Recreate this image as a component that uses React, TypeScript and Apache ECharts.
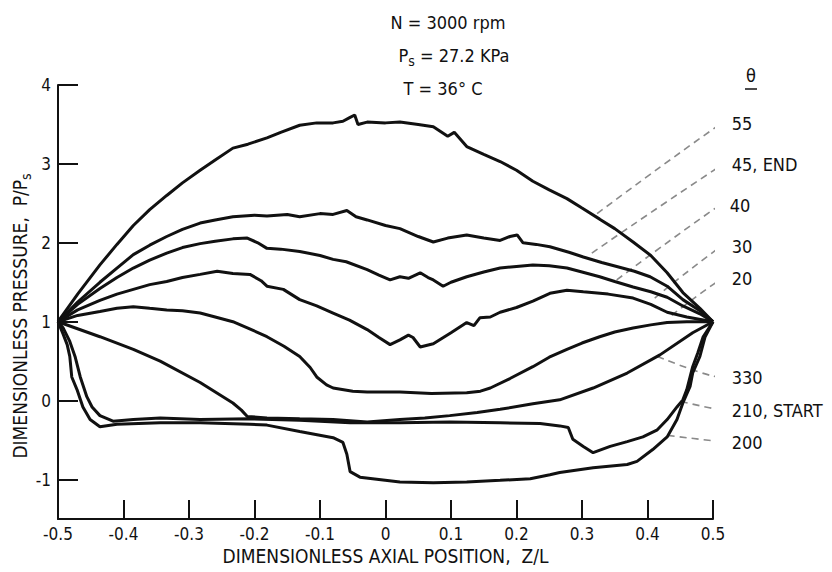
import React, { useEffect, useRef } from "react";
import * as echarts from "echarts";

const FONT = "'Liberation Sans Narrow','DejaVu Sans Condensed','Roboto Condensed','DejaVu Sans',sans-serif";
const INK = "#111111";

const yTickValues = [-1, 0, 1, 2, 3, 4];

const curveNames = ["55", "45, END", "40", "30", "20", "330", "210, START", "200"];

const theta55 = [[-0.5,1.0],[-0.47,1.35],[-0.436,1.72],[-0.41,1.98],[-0.385,2.22],[-0.36,2.42],[-0.334,2.60],[-0.31,2.76],[-0.283,2.92],[-0.26,3.05],[-0.233,3.20],[-0.21,3.25],[-0.181,3.33],[-0.16,3.40],[-0.131,3.49],[-0.105,3.52],[-0.08,3.52],[-0.065,3.54],[-0.054,3.59],[-0.047,3.62],[-0.042,3.50],[-0.028,3.53],[0.0,3.52],[0.022,3.53],[0.05,3.50],[0.073,3.47],[0.095,3.35],[0.105,3.40],[0.124,3.22],[0.15,3.12],[0.175,3.03],[0.2,2.92],[0.225,2.78],[0.25,2.67],[0.277,2.56],[0.30,2.44],[0.327,2.30],[0.35,2.18],[0.378,2.01],[0.405,1.84],[0.43,1.62],[0.454,1.37],[0.48,1.17],[0.5,1.0]];
const theta45 = [[-0.5,1.0],[-0.47,1.25],[-0.436,1.50],[-0.41,1.68],[-0.385,1.85],[-0.36,1.97],[-0.334,2.08],[-0.31,2.17],[-0.283,2.25],[-0.26,2.29],[-0.233,2.33],[-0.2,2.35],[-0.181,2.34],[-0.15,2.36],[-0.131,2.33],[-0.10,2.37],[-0.08,2.36],[-0.059,2.41],[-0.045,2.33],[-0.028,2.29],[0.0,2.22],[0.022,2.18],[0.05,2.08],[0.073,2.01],[0.095,2.06],[0.124,2.10],[0.15,2.06],[0.175,2.03],[0.19,2.08],[0.201,2.10],[0.21,2.00],[0.23,1.98],[0.251,1.95],[0.28,1.88],[0.302,1.82],[0.33,1.75],[0.353,1.70],[0.38,1.64],[0.404,1.57],[0.43,1.45],[0.454,1.28],[0.48,1.14],[0.5,1.0]];
const theta40 = [[-0.5,1.0],[-0.47,1.22],[-0.436,1.42],[-0.41,1.56],[-0.385,1.68],[-0.36,1.78],[-0.334,1.87],[-0.31,1.94],[-0.283,1.99],[-0.26,2.02],[-0.233,2.05],[-0.211,2.06],[-0.195,2.0],[-0.181,1.93],[-0.16,1.92],[-0.131,1.89],[-0.10,1.84],[-0.08,1.79],[-0.06,1.76],[-0.028,1.66],[-0.01,1.59],[0.007,1.53],[0.022,1.57],[0.035,1.55],[0.053,1.62],[0.065,1.56],[0.073,1.53],[0.088,1.45],[0.10,1.50],[0.124,1.57],[0.15,1.63],[0.175,1.68],[0.2,1.70],[0.225,1.72],[0.25,1.71],[0.277,1.68],[0.30,1.63],[0.327,1.57],[0.35,1.51],[0.378,1.44],[0.405,1.38],[0.43,1.31],[0.454,1.20],[0.48,1.10],[0.5,1.0]];
const theta30 = [[-0.5,1.0],[-0.47,1.15],[-0.436,1.27],[-0.41,1.35],[-0.385,1.41],[-0.36,1.47],[-0.334,1.51],[-0.31,1.56],[-0.283,1.60],[-0.257,1.64],[-0.233,1.61],[-0.207,1.60],[-0.19,1.52],[-0.181,1.45],[-0.156,1.41],[-0.131,1.28],[-0.105,1.20],[-0.08,1.11],[-0.055,1.02],[-0.028,0.90],[-0.01,0.80],[0.007,0.71],[0.022,0.77],[0.035,0.83],[0.042,0.80],[0.053,0.68],[0.073,0.72],[0.10,0.86],[0.124,0.99],[0.135,0.95],[0.144,1.05],[0.16,1.06],[0.175,1.12],[0.2,1.18],[0.225,1.26],[0.251,1.36],[0.277,1.40],[0.302,1.38],[0.34,1.35],[0.378,1.30],[0.405,1.22],[0.43,1.12],[0.46,1.06],[0.5,1.0]];
const theta20 = [[-0.5,1.0],[-0.47,1.08],[-0.436,1.13],[-0.41,1.17],[-0.385,1.19],[-0.36,1.17],[-0.334,1.15],[-0.31,1.14],[-0.283,1.11],[-0.26,1.06],[-0.233,1.0],[-0.21,0.92],[-0.181,0.81],[-0.155,0.69],[-0.131,0.56],[-0.115,0.42],[-0.105,0.30],[-0.09,0.20],[-0.08,0.16],[-0.05,0.12],[-0.028,0.11],[0.022,0.11],[0.07,0.09],[0.124,0.10],[0.145,0.12],[0.16,0.16],[0.19,0.28],[0.225,0.43],[0.25,0.55],[0.277,0.65],[0.30,0.73],[0.327,0.81],[0.35,0.87],[0.378,0.92],[0.405,0.96],[0.43,0.99],[0.46,1.0],[0.5,1.0]];
const theta330 = [[-0.5,1.0],[-0.436,0.81],[-0.385,0.65],[-0.344,0.50],[-0.283,0.23],[-0.233,-0.03],[-0.22,-0.12],[-0.211,-0.20],[-0.181,-0.22],[-0.131,-0.23],[-0.08,-0.24],[-0.028,-0.27],[0.022,-0.24],[0.06,-0.22],[0.098,-0.19],[0.14,-0.15],[0.175,-0.11],[0.225,-0.04],[0.266,0.01],[0.317,0.16],[0.369,0.35],[0.419,0.58],[0.469,0.86],[0.5,1.0]];
const theta210 = [[-0.5,1.0],[-0.492,0.92],[-0.482,0.75],[-0.474,0.56],[-0.466,0.30],[-0.456,0.05],[-0.448,-0.08],[-0.436,-0.19],[-0.416,-0.26],[-0.385,-0.24],[-0.344,-0.22],[-0.283,-0.24],[-0.207,-0.23],[-0.131,-0.25],[-0.054,-0.28],[0.022,-0.28],[0.098,-0.27],[0.175,-0.28],[0.236,-0.29],[0.266,-0.32],[0.279,-0.34],[0.286,-0.49],[0.302,-0.58],[0.317,-0.66],[0.343,-0.58],[0.369,-0.52],[0.393,-0.46],[0.415,-0.37],[0.43,-0.24],[0.445,-0.08],[0.454,0.01],[0.46,0.14],[0.465,0.30],[0.469,0.43],[0.477,0.61],[0.485,0.81],[0.5,1.0]];
const theta200 = [[-0.5,1.0],[-0.492,0.84],[-0.486,0.71],[-0.482,0.56],[-0.479,0.30],[-0.471,0.14],[-0.462,-0.08],[-0.451,-0.24],[-0.436,-0.33],[-0.41,-0.30],[-0.344,-0.28],[-0.283,-0.28],[-0.207,-0.30],[-0.181,-0.31],[-0.131,-0.39],[-0.08,-0.47],[-0.065,-0.53],[-0.059,-0.68],[-0.054,-0.90],[-0.039,-0.97],[0.022,-1.03],[0.073,-1.04],[0.124,-1.03],[0.175,-1.01],[0.221,-0.99],[0.251,-0.94],[0.266,-0.91],[0.317,-0.85],[0.369,-0.81],[0.384,-0.77],[0.408,-0.62],[0.43,-0.46],[0.445,-0.24],[0.454,-0.03],[0.465,0.18],[0.469,0.35],[0.48,0.56],[0.488,0.81],[0.5,1.0]];

const curves = [theta55, theta45, theta40, theta30, theta20, theta330, theta210, theta200];

// leader lines: point on the curve -> point next to the label (data units)
const leaderStarts = [[0.323,2.37],[0.315,1.87],[0.353,1.53],[0.411,1.30],[0.437,1.08],[0.415,0.56],[0.451,-0.01],[0.431,-0.44]];
const leaderEnds = [[0.521,3.53],[0.521,3.0],[0.518,2.49],[0.521,1.97],[0.521,1.56],[0.521,0.30],[0.521,-0.11],[0.521,-0.52]];

const infoLines = ["N = 3000 rpm", "P{s|s} = 27.2 KPa", "T = 36° C"];

export default function App() {
  const ref = useRef<HTMLDivElement>(null);
  useEffect(() => {
    if (!ref.current) return;
    const chart = echarts.init(ref.current, null, { renderer: "svg" });
    const lineSeries = curves.map((d, i) => ({
      name: curveNames[i],
      type: "line",
      data: d,
      symbol: "none",
      lineStyle: { color: INK, width: 3 },
      z: 3,
    }));
    const leaderSeries = leaderStarts.map((s, i) => {
      const e = leaderEnds[i];
      const upper = i < 5;
      const bend = upper ? [e[0] - 0.016, e[1] - 0.06] : [e[0] - 0.02, e[1] + 0.01];
      return {
        type: "line",
        data: [s, bend, e],
        smooth: upper ? 0.5 : 0.3,
        symbol: "none",
        clip: false,
        silent: true,
        lineStyle: { color: "#8a8a8a", width: 1.6, type: [7, 5] },
        z: 2,
      };
    });
    chart.setOption({
      animation: false,
      backgroundColor: "#ffffff",
      grid: { left: 58, right: 119, top: 85, bottom: 53, containLabel: false },
      xAxis: {
        type: "value",
        min: -0.5,
        max: 0.5,
        interval: 0.1,
        axisLine: { onZero: false, lineStyle: { color: INK, width: 2 } },
        axisTick: { inside: true, length: 19, lineStyle: { color: INK, width: 2 } },
        axisLabel: {
          color: INK,
          fontFamily: FONT,
          fontSize: 17,
          margin: 6,
          formatter: (v: number) => (Math.abs(v) < 1e-9 ? "0" : v.toFixed(1)),
        },
        splitLine: { show: false },
        name: "DIMENSIONLESS AXIAL POSITION,  Z/L",
        nameLocation: "middle",
        nameGap: 25,
        nameTextStyle: { color: INK, fontFamily: FONT, fontSize: 19 },
      },
      yAxis: {
        type: "value",
        min: -1.5,
        max: 4,
        axisLine: { onZero: false, lineStyle: { color: INK, width: 2 } },
        axisTick: { inside: true, length: 20, customValues: yTickValues, lineStyle: { color: INK, width: 2 } },
        axisLabel: { color: INK, fontFamily: FONT, fontSize: 17, margin: 7, customValues: yTickValues },
        splitLine: { show: false },
      },
      series: [...lineSeries, ...leaderSeries],
    });

    const gr: any[] = [];
    leaderEnds.forEach((e, i) => {
      const p = chart.convertToPixel({ gridIndex: 0 }, e) as number[];
      gr.push({
        type: "text",
        x: p[0] + 5,
        y: p[1] + 1,
        style: { text: curveNames[i], fontFamily: FONT, fontSize: 18, fill: INK, align: "left", verticalAlign: "middle" },
      });
    });
    const infoY = [22, 55, 88];
    const infoX = [448, 454, 443];
    infoLines.forEach((t, i) => {
      gr.push({
        type: "text",
        x: infoX[i],
        y: infoY[i],
        style: {
          text: t,
          fontFamily: FONT,
          fontSize: 18,
          fill: INK,
          align: "center",
          verticalAlign: "middle",
          rich: { s: { fontFamily: FONT, fontSize: 14, fill: INK, padding: [11, 0, 0, 0] } },
        },
      });
    });
    gr.push({
      type: "text",
      x: 751,
      y: 75,
      style: { text: "θ", fontFamily: FONT, fontSize: 18, fill: INK, align: "center", verticalAlign: "middle" },
    });
    gr.push({ type: "line", shape: { x1: 745, y1: 89, x2: 757, y2: 89 }, style: { stroke: INK, lineWidth: 1.5 } });
    gr.push({
      type: "text",
      x: 20,
      y: 316,
      rotation: Math.PI / 2,
      style: {
        text: "DIMENSIONLESS PRESSURE,  P/P{s|s}",
        fontFamily: FONT,
        fontSize: 19,
        fill: INK,
        align: "center",
        verticalAlign: "middle",
        rich: { s: { fontFamily: FONT, fontSize: 14, fill: INK, padding: [11, 0, 0, 0] } },
      },
    });
    chart.setOption({ graphic: gr });
    return () => chart.dispose();
  }, []);
  return <div ref={ref} style={{ position: "fixed", left: 0, top: 0, width: 832, height: 572, background: "#fff" }} />;
}
